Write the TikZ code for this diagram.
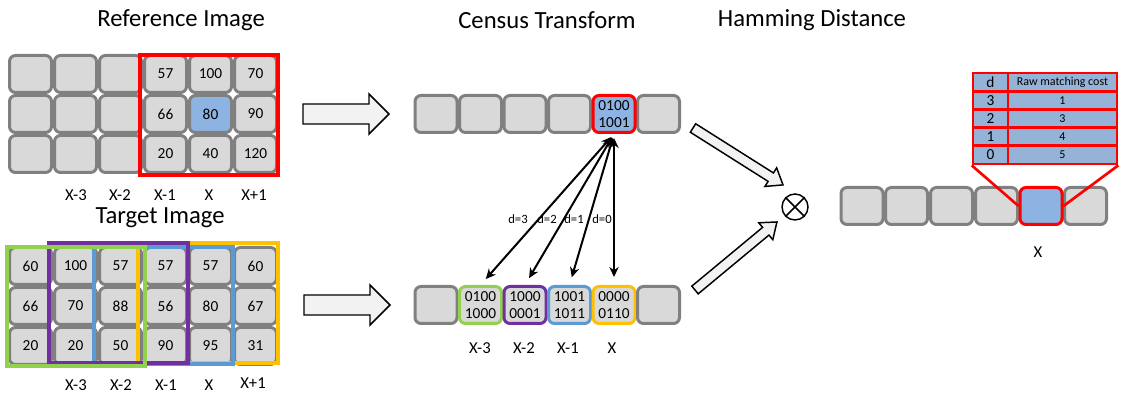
\documentclass[tikz,border=0pt]{standalone}
\usepackage{fontspec}
\setmainfont{Carlito}
\usetikzlibrary{arrows.meta,calc}
\definecolor{cellgray}{HTML}{808080}
\definecolor{cellfill}{HTML}{D9D9D9}
\definecolor{hiblue}{HTML}{8DB3E2}
\definecolor{tblblue}{HTML}{95B3D7}
\definecolor{cgreen}{HTML}{92D050}
\definecolor{cpurple}{HTML}{7030A0}
\definecolor{cblue}{HTML}{5B9BD5}
\definecolor{cyellow}{HTML}{FFC000}
\definecolor{cred}{HTML}{FF0000}
\definecolor{arrfill}{HTML}{F2F2F2}
\begin{document}
\begin{tikzpicture}[x=0.75pt,y=-0.75pt,
  cell/.style={draw=cellgray, fill=cellfill, line width=2.25pt, rounded corners=4.5pt,
    minimum width=31.5pt, minimum height=27.75pt, inner sep=0pt,
    font=\fontsize{11.5}{13}\selectfont, align=center},
  ttl/.style={font=\fontsize{18.5}{22}\selectfont},
  lbl/.style={font=\fontsize{12.5}{15}\selectfont},
  dlbl/.style={font=\fontsize{9.5}{11}\selectfont},
  win/.style={draw=#1, line width=3pt},
  blockarr/.style={draw=black, fill=arrfill, line width=1.1pt, line join=miter},
  darr/.style={{Stealth[length=7.5pt,width=7pt]}-{Stealth[length=7.5pt,width=7pt]}, line width=1.5pt},
  tcell/.style={draw=cred, fill=tblblue, line width=2pt, minimum height=13.5pt, inner sep=0pt}
]
\useasboundingbox (0,0) rectangle (1122,398);

% titles
\node[ttl] (t-ref) at (181,20) {Reference Image};
\node[ttl] (t-tgt) at (160,218) {Target Image};
\node[ttl] (t-cen) at (547,20) {Census Transform};
\node[ttl] (t-ham) at (812,20) {Hamming Distance};

% reference grid
\foreach \c/\x/\va/\vb/\vc/\sb in {1/30.5/{}/{}/{}/cellfill, 2/75.5/{}/{}/{}/cellfill, 3/120.5/{}/{}/{}/cellfill,
    4/165.5/57/66/20/cellfill, 5/210.5/100/80/40/hiblue, 6/255.5/70/90/120/cellfill}{
  \node[cell] (ref-1-\c) at (\x,74) {\va};
  \node[cell, fill=\sb] (ref-2-\c) at (\x,114) {\vb};
  \node[cell] (ref-3-\c) at (\x,154) {\vc};
}
\draw[win=cred] (140,55) rectangle (278,175);
\foreach \t/\x in {X-3/76, X-2/120, X-1/165, X/209, X+1/254}
  \node[lbl] (rl-\t) at (\x,195) {\t};

% target grid
\foreach \c/\x/\va/\vb/\vc in {1/30.5/60/66/20, 2/75.5/100/70/20, 3/120.5/57/88/50,
    4/165.5/57/56/90, 5/210.5/57/80/95, 6/255.5/60/67/31}{
  \node[cell] (tg-1-\c) at (\x,266) {\va};
  \node[cell] (tg-2-\c) at (\x,306) {\vb};
  \node[cell] (tg-3-\c) at (\x,346) {\vc};
}
\draw[win=cyellow] (138,243) rectangle (278,363);
\draw[win=cblue] (94,247) rectangle (233,364);
\draw[win=cpurple] (49,243) rectangle (188,363);
\draw[win=cgreen] (7,247) rectangle (145,366);
\foreach \t/\x/\y in {X-3/76/385, X-2/121/385, X-1/166/385, X/209/385, X+1/253/383}
  \node[lbl] (tl-\t) at (\x,\y) {\t};

% block arrows
\draw[blockarr] (303,104) -- (369,104) -- (369,94) -- (389,114) -- (369,134) -- (369,124) -- (303,124) -- cycle;
\draw[blockarr] (304,295) -- (370,295) -- (370,285) -- (390,305) -- (370,325) -- (370,315) -- (304,315) -- cycle;

% census rows
\foreach \i/\x in {1/436, 2/480.5, 3/525, 4/569.5, 6/658.5}
  \node[cell] (ct-\i) at (\x,114) {};
\node[cell, draw=cred, fill=hiblue] (ct-5) at (614,114) {0100\\1001};

\node[cell] (cb-1) at (436,305) {};
\node[cell, draw=cgreen] (cb-2) at (480.5,305) {0100\\1000};
\node[cell, draw=cpurple] (cb-3) at (525,305) {1000\\0001};
\node[cell, draw=cblue] (cb-4) at (569.5,305) {1001\\1011};
\node[cell, draw=cyellow] (cb-5) at (614,305) {0000\\0110};
\node[cell] (cb-6) at (658.5,305) {};
\foreach \t/\x in {X-3/480, X-2/524, X-1/568, X/612}
  \node[lbl] (cl-\t) at (\x,348) {\t};

% disparity arrows
\foreach \j in {2,3,4,5}
  \draw[darr, shorten <=3pt, shorten >=6pt] (ct-5.south) -- (cb-\j.north);
\node[dlbl] (d3) at (518,219) {d=3};
\node[dlbl] (d2) at (547,219) {d=2};
\node[dlbl] (d1) at (574,219) {d=1};
\node[dlbl] (d0) at (602,219) {d=0};

% diagonal block arrows
\draw[blockarr, shift={(693,128)}, rotate=-32.3]
  (0,-5) -- (92,-5) -- (92,-11) -- (106.5,0) -- (92,11) -- (92,5) -- (0,5) -- cycle;
\draw[blockarr, shift={(695,290)}, rotate=39.7]
  (0,-5) -- (92,-5) -- (92,-11) -- (106.5,0) -- (92,11) -- (92,5) -- (0,5) -- cycle;

% otimes
\node[circle, draw, line width=1.1pt, minimum size=19.5pt, inner sep=0pt] (ot) at (795,207) {};
\draw[line width=1.1pt] (ot.north west) -- (ot.south east) (ot.north east) -- (ot.south west);

% result row
\foreach \i/\x in {1/862, 2/906.5, 3/951.5, 4/996.5, 6/1085.5}
  \node[cell] (r-\i) at (\x,206) {};
\node[cell, draw=cred, fill=hiblue] (r-5) at (1041,206) {};
\node[lbl] (rl-x) at (1038,252) {X};

% table
\foreach \i/\y/\d/\v in {0/82/d/Raw matching cost, 1/100.25/3/1, 2/118.5/2/3, 3/136.75/1/4, 4/155/0/5}{
  \node[tcell, minimum width=26.25pt, font=\fontsize{11.5}{12}\selectfont] (td-\i) at (990.5,\y) {\d};
  \node[tcell, minimum width=81.75pt, font=\fontsize{9}{9}\selectfont] (tv-\i) at (1062.5,\y) {\v};
}
\draw[cred, line width=2pt] (td-4.south west) -- (r-5.west);
\draw[cred, line width=2pt] (tv-4.south east) -- (r-5.east);
\end{tikzpicture}
\end{document}
